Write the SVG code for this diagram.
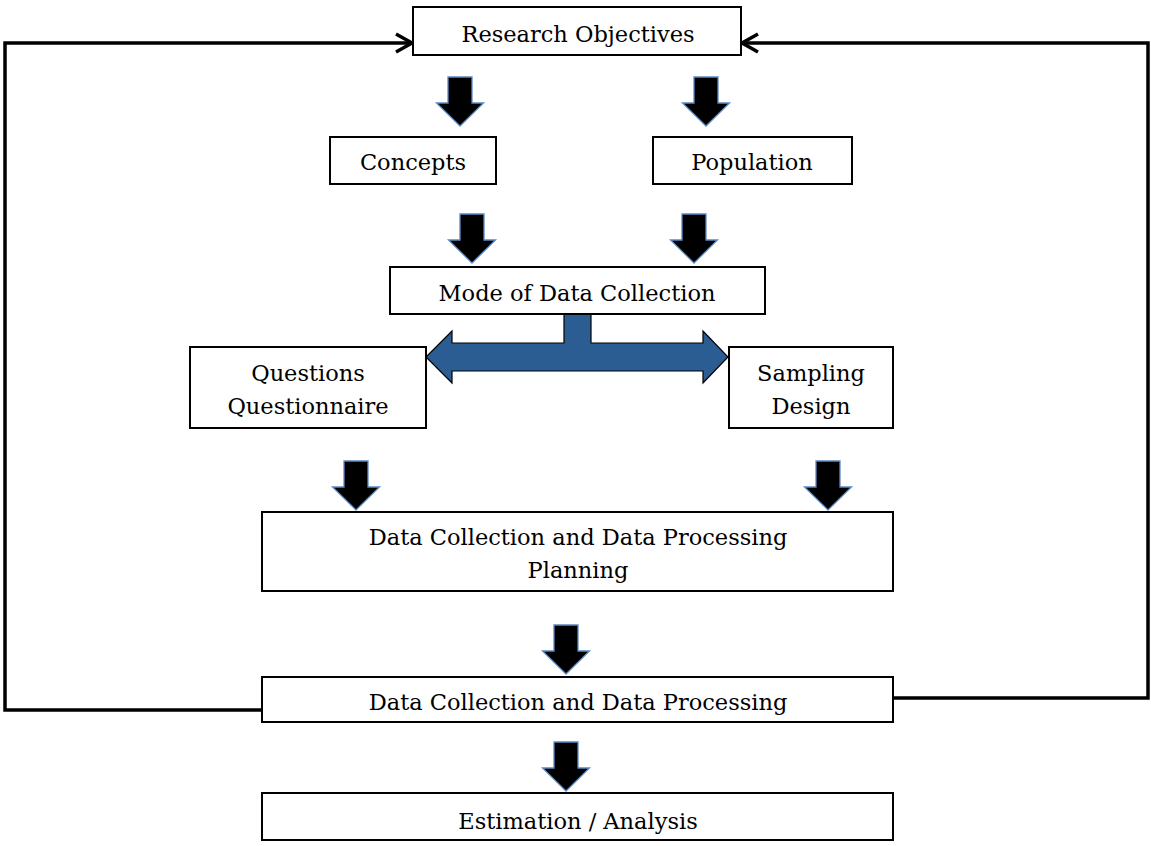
<svg xmlns="http://www.w3.org/2000/svg" xmlns:xlink="http://www.w3.org/1999/xlink" width="1151" height="846" viewBox="0 0 1151 846">
  <style>
    .box { fill: #ffffff; stroke: #000000; stroke-width: 2; }
    .lbl { font-family: "DejaVu Serif", "Liberation Serif", serif; font-size: 22.5px; fill: #000000; text-anchor: middle; }
    .feed { fill: none; stroke: #000000; stroke-width: 3.5; stroke-linejoin: miter; }
    .chev { fill: none; stroke: #000000; stroke-width: 3.5; stroke-linejoin: miter; }
    .blk { fill: #000000; stroke: #5b8ac6; stroke-width: 1.3; }
    .tee { fill: #2b5c92; stroke: #000000; stroke-width: 1.2; }
  </style>
  <defs>
    <!-- downward block arrow, origin at top centre -->
    <path id="down" d="M -12 0 H 12 V 26 H 23.5 L 0 49 L -23.5 26 H -12 Z"/>
  </defs>

  <!-- connectors -->
  <g id="connectors">
    <use xlink:href="#down" class="blk" x="460" y="77"/>
    <use xlink:href="#down" class="blk" x="706" y="77"/>
    <use xlink:href="#down" class="blk" x="472" y="214"/>
    <use xlink:href="#down" class="blk" x="694" y="214"/>
    <use xlink:href="#down" class="blk" x="356" y="461"/>
    <use xlink:href="#down" class="blk" x="828" y="461"/>
    <use xlink:href="#down" class="blk" x="566" y="625"/>
    <use xlink:href="#down" class="blk" x="566" y="742"/>
    <!-- split arrow from mode of data collection -->
    <path class="tee" d="M 564 314 V 343 H 452 V 331 L 426 357 L 452 383 V 371 H 703 V 383 L 728 357 L 703 331 V 343 H 591 V 314 Z"/>
    <!-- feedback loops back to research objectives -->
    <path class="feed" d="M 262 710 H 5 V 43 H 410"/>
    <polyline class="chev" points="396,34 412,43 396,52"/>
    <path class="feed" d="M 893 698 H 1148 V 43 H 744"/>
    <polyline class="chev" points="758,34 742,43 758,52"/>
  </g>

  <g id="research-objectives">
    <rect class="box" x="413" y="7" width="328" height="48"/>
    <text class="lbl" x="578" y="42">Research Objectives</text>
  </g>
  <g id="concepts">
    <rect class="box" x="330" y="137" width="166" height="47"/>
    <text class="lbl" x="413" y="170">Concepts</text>
  </g>
  <g id="population">
    <rect class="box" x="653" y="137" width="199" height="47"/>
    <text class="lbl" x="752" y="170">Population</text>
  </g>
  <g id="mode-of-data-collection">
    <rect class="box" x="390" y="267" width="375" height="47"/>
    <text class="lbl" x="577" y="301">Mode of Data Collection</text>
  </g>
  <g id="questions">
    <rect class="box" x="190" y="347" width="236" height="81"/>
    <text class="lbl" x="308" y="381">Questions</text>
    <text class="lbl" x="308" y="414">Questionnaire</text>
  </g>
  <g id="sampling-design">
    <rect class="box" x="729" y="347" width="164" height="81"/>
    <text class="lbl" x="811" y="381">Sampling</text>
    <text class="lbl" x="811" y="414">Design</text>
  </g>
  <g id="planning">
    <rect class="box" x="262" y="512" width="631" height="79"/>
    <text class="lbl" x="578" y="545">Data Collection and Data Processing</text>
    <text class="lbl" x="578" y="578">Planning</text>
  </g>
  <g id="data-collection-processing">
    <rect class="box" x="262" y="677" width="631" height="45"/>
    <text class="lbl" x="578" y="710">Data Collection and Data Processing</text>
  </g>
  <g id="estimation-analysis">
    <rect class="box" x="262" y="793" width="631" height="47"/>
    <text class="lbl" x="578" y="829">Estimation / Analysis</text>
  </g>
</svg>
